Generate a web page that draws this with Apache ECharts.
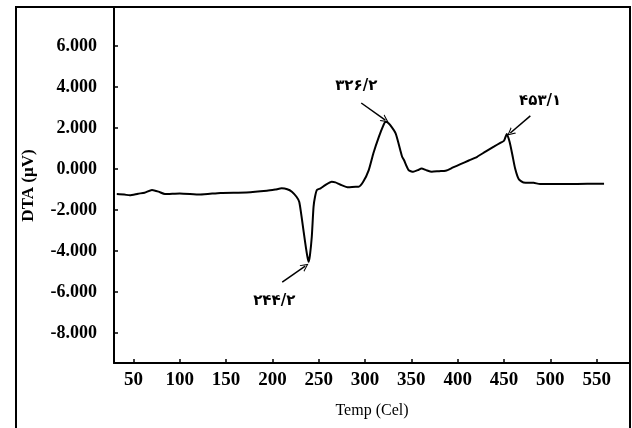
<!DOCTYPE html>
<html>
<head>
<meta charset="utf-8">
<script src="https://cdn.jsdelivr.net/npm/echarts@6/dist/echarts.min.js"></script>
<style>
  html, body { margin: 0; padding: 0; background: #fff; }
  #chart { width: 632px; height: 428px; }
</style>
</head>
<body>
<div id="chart"></div>
<script>
// DTA curve
const temps = [32, 40, 46, 55, 62, 70, 77, 84, 100, 122, 144, 172, 194, 203, 210, 216, 221, 226, 229, 232,
  235.5, 237.5, 239, 240.5, 242.5, 244.4, 246, 248, 252, 257, 264, 268, 273, 282, 290, 293, 298, 304, 309,
  315, 320, 322, 324, 327, 333, 338, 340, 342, 347, 352, 357, 361, 366, 372, 380, 387, 395, 403, 412, 421,
  430, 439, 446, 450, 453, 456, 459, 462, 466, 471, 482, 489, 518, 540, 558];
const dta = [-1.22, -1.24, -1.28, -1.2, -1.15, -1.02, -1.1, -1.22, -1.19, -1.24, -1.16, -1.14, -1.06, -1.0,
  -0.94, -0.98, -1.1, -1.35, -1.6, -2.49, -3.62, -4.2, -4.52, -4.2, -3.3, -1.84, -1.35, -1.02, -0.94, -0.78,
  -0.62, -0.65, -0.75, -0.89, -0.86, -0.86, -0.62, -0.05, 0.77, 1.58, 2.15, 2.31, 2.28, 2.15, 1.74, 0.93,
  0.6, 0.44, -0.05, -0.13, -0.05, 0.03, -0.05, -0.13, -0.1, -0.08, 0.08, 0.24, 0.42, 0.6, 0.85, 1.09, 1.28,
  1.38, 1.71, 1.33, 0.7, 0.03, -0.5, -0.65, -0.67, -0.73, -0.73, -0.72, -0.72];

const xTicks = [50, 100, 150, 200, 250, 300, 350, 400, 450, 500, 550];
const yTicks = [-8, -6, -4, -2, 0, 2, 4, 6];

// peak annotations (Persian digits as in the figure)
const peakLabels = ['۲۴۴/۲', '۳۲۶/۲', '۴۵۳/۱'];
const labelAt = [[202, -6.45], [290.5, 4.05], [489, 3.3]];
const arrowFrom = [[210.6, -5.51], [295.9, 3.22], [478.4, 2.59]];
const arrowTo = [[235.4, -4.73], [321.9, 2.39], [456.8, 1.76]];

const serif = '"Liberation Serif", "DejaVu Serif", serif';
const chevron = 'path://M5,0 L10,9 L8.6,9 L5,2.6 L1.4,9 L0,9 Z';

const chart = echarts.init(document.getElementById('chart'));

chart.setOption({
  animation: false,
  backgroundColor: '#fff',
  grid: { left: 114, right: 2, top: 8, bottom: 65 },
  xAxis: {
    type: 'value',
    min: 29,
    max: 586,
    name: 'Temp (Cel)',
    nameLocation: 'middle',
    nameGap: 40,
    nameTextStyle: { fontFamily: serif, fontSize: 16, color: '#000' },
    axisLine: { show: true, onZero: false, lineStyle: { color: '#000', width: 2 } },
    axisTick: { show: true, inside: true, length: 4, customValues: xTicks, lineStyle: { color: '#000', width: 1.5 } },
    axisLabel: { customValues: xTicks, fontFamily: serif, fontSize: 19, fontWeight: 'bold', color: '#000', margin: 8 },
    splitLine: { show: false }
  },
  yAxis: {
    type: 'value',
    min: -9.45,
    max: 7.85,
    name: 'DTA (µV)',
    nameLocation: 'middle',
    nameGap: 77,
    nameTextStyle: { fontFamily: serif, fontSize: 17, fontWeight: 'bold', color: '#000' },
    axisLine: { show: true, onZero: false, lineStyle: { color: '#000', width: 2 } },
    axisTick: { show: true, inside: true, length: 4, customValues: yTicks, lineStyle: { color: '#000', width: 1.5 } },
    axisLabel: {
      customValues: yTicks,
      fontFamily: serif, fontSize: 18, fontWeight: 'bold', color: '#000', margin: 17,
      formatter: v => v.toFixed(3)
    },
    splitLine: { show: false }
  },
  graphic: [{
    type: 'rect',
    shape: { x: 16, y: 7, width: 614, height: 440 },
    style: { fill: null, stroke: '#000', lineWidth: 2 },
    z: 100
  }],
  series: [{
    type: 'line',
    data: temps.map((t, i) => [t, dta[i]]),
    showSymbol: false,
    smooth: 0.2,
    lineStyle: { color: '#000', width: 2 },
    markLine: {
      silent: true,
      symbol: ['none', chevron],
      symbolSize: [8, 8],
      label: { show: false },
      lineStyle: { color: '#000', width: 1.5, type: 'solid' },
      data: arrowFrom.map((p, i) => [{ coord: p }, { coord: arrowTo[i] }])
    },
    markPoint: {
      silent: true,
      symbol: 'circle',
      symbolSize: 1,
      itemStyle: { color: 'rgba(0,0,0,0)' },
      label: {
        show: true,
        position: 'inside',
        formatter: '{b}',
        fontFamily: '"DejaVu Sans", "Noto Sans", sans-serif',
        fontSize: 15,
        fontWeight: 'bold',
        color: '#000'
      },
      data: peakLabels.map((s, i) => ({ name: s, coord: labelAt[i] }))
    }
  }]
});
</script>
</body>
</html>
